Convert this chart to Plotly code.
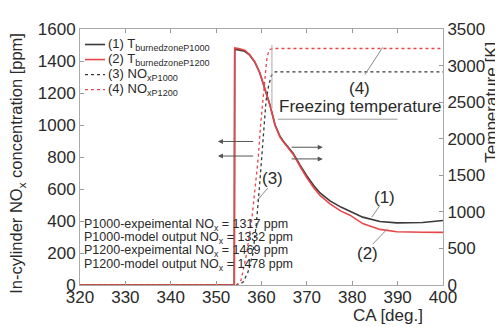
import plotly.graph_objects as go

# ---- data ----
ca_T_p1000 = [320, 354.0, 354.1, 355.0, 356.3, 357.4, 358.5, 359.6, 360.7, 361.9, 363.0, 364.1,
              365.0, 366.0, 367.0, 368.5, 370.0, 371.5, 372.9, 375.1, 377.5, 379.5, 382.3, 386.1,
              389.8, 395.5, 400]
T_p1000 = [0, 0, 3220, 3215, 3195, 3142, 3049, 2904, 2691, 2453, 2188, 2030,
           1950, 1880, 1800, 1640, 1490, 1360, 1259, 1150, 1065, 1008, 928, 868,
           849, 855, 882]

ca_T_p1200 = [320, 354.0, 354.1, 355.0, 356.3, 357.4, 358.5, 359.6, 360.7, 361.9, 363.0, 364.1,
              365.0, 366.0, 367.0, 368.5, 370.0, 371.5, 372.9, 375.1, 377.5, 379.5, 382.3, 386.1,
              389.8, 395.5, 400]
T_p1200 = [0, 0, 3240, 3232, 3210, 3150, 3055, 2905, 2690, 2450, 2180, 2020,
           1940, 1865, 1785, 1620, 1465, 1330, 1225, 1110, 1010, 955, 839, 760,
           729, 722, 720]

ca_nox_p1000 = [320, 355.0, 356.0, 357.0, 358.1, 358.9, 359.5, 360.0, 360.5, 361.0, 361.6, 362.2, 363.0, 400]
nox_p1000 = [0, 0, 20, 80, 194, 394, 596, 800, 1000, 1150, 1250, 1310, 1332, 1332]

ca_nox_p1200 = [320, 354.5, 355.5, 356.0, 356.7, 357.8, 358.5, 359.3, 359.8, 360.3, 360.7, 361.2, 361.7, 362.5, 400]
nox_p1200 = [0, 0, 30, 90, 194, 394, 596, 800, 1000, 1150, 1300, 1420, 1470, 1478, 1478]

x_ticks = [320, 330, 340, 350, 360, 370, 380, 390, 400]
y_ticks = [0, 200, 400, 600, 800, 1000, 1200, 1400, 1600]
y2_ticks = [0, 500, 1000, 1500, 2000, 2500, 3000, 3500]

legend_labels = [
    "(1) T<sub>burnedzoneP1000</sub>",
    "(2) T<sub>burnedzoneP1200</sub>",
    "(3) NO<sub>xP1000</sub>",
    "(4) NO<sub>xP1200</sub>",
]

info_lines = [
    "P1000-expeimental NO<sub>x</sub> = 1317 ppm",
    "P1000-model output NO<sub>x</sub> = 1332 ppm",
    "P1200-expeimental NO<sub>x</sub> = 1469 ppm",
    "P1200-model output NO<sub>x</sub> = 1478 ppm",
]

freezing_T = 2267
freezing_ca = [363.6, 390.0]

BLACK = "#3a3a3a"
RED = "#e8474a"
TXT = "#2a2a2a"
FONT = "Liberation Sans, Arial, sans-serif"

styles = [
    dict(color=BLACK, width=1.6),
    dict(color=RED, width=1.6),
    dict(color=BLACK, width=1.3, dash="dot"),
    dict(color=RED, width=1.3, dash="dot"),
]

fig = go.Figure()
fig.add_trace(go.Scatter(x=ca_T_p1000, y=T_p1000, yaxis="y2", mode="lines",
                         line=styles[0], name=legend_labels[0], showlegend=False))
fig.add_trace(go.Scatter(x=ca_T_p1200, y=T_p1200, yaxis="y2", mode="lines",
                         line=styles[1], name=legend_labels[1], showlegend=False))
fig.add_trace(go.Scatter(x=ca_nox_p1000, y=nox_p1000, mode="lines",
                         line=styles[2], name=legend_labels[2], showlegend=False))
fig.add_trace(go.Scatter(x=ca_nox_p1200, y=nox_p1200, mode="lines",
                         line=styles[3], name=legend_labels[3], showlegend=False))

# freezing temperature line
fig.add_trace(go.Scatter(x=freezing_ca, y=[freezing_T, freezing_T], yaxis="y2", mode="lines",
                         line=dict(color="#9a9a9a", width=1), showlegend=False, hoverinfo="skip"))

# plot area in page pixels: x 80..443, y 21..285
def px(x):
    return (x - 80) / 363.0


def py(y):
    return (285 - y) / 264.0


annotations = []
shapes = []

# manual legend
for i, (lab, st) in enumerate(zip(legend_labels, styles)):
    yy = 37 + i * 15.5
    shapes.append(dict(type="line", xref="paper", yref="paper", x0=px(85), x1=px(105),
                       y0=py(yy), y1=py(yy), line=st))
    annotations.append(dict(xref="paper", yref="paper", x=px(106), y=py(yy), text=lab,
                            showarrow=False, xanchor="left", yanchor="middle",
                            font=dict(size=13, color=TXT, family=FONT)))

# info text
for i, t in enumerate(info_lines):
    annotations.append(dict(xref="paper", yref="paper", x=px(82), y=py(223 + i * 13.7),
                            text=t, showarrow=False, xanchor="left", yanchor="middle",
                            font=dict(size=12.5, color=TXT, family=FONT)))
# labels
for txt, x, y in [("(4)", 381.7, 1228), ("Freezing temperature", 381.8, 1113),
                  ("(3)", 362.5, 667), ("(1)", 387.2, 545), ("(2)", 383.4, 200)]:
    annotations.append(dict(x=x, y=y, text=txt, showarrow=False, xanchor="center", yanchor="middle",
                            font=dict(size=17, color=TXT, family=FONT)))
# arrows
for (hx, tx, y) in [(350.4, 358.5, 897), (350.4, 358.5, 806), (373.5, 366.3, 861), (373.5, 366.3, 788)]:
    annotations.append(dict(x=hx, y=y, ax=tx, ay=y, axref="x", ayref="y", text="", showarrow=True,
                            arrowhead=2, arrowsize=1, arrowwidth=1, arrowcolor="#555555"))
# axis titles
annotations.append(dict(xref="paper", yref="paper", x=px(17), y=py(160),
                        text="In-cylinder NO<sub>x</sub> concentration [ppm]", textangle=-90,
                        showarrow=False, xanchor="center", yanchor="middle",
                        font=dict(size=16.5, color=TXT, family=FONT)))
annotations.append(dict(xref="paper", yref="paper", x=px(492), y=py(96),
                        text="Temperature [K]", textangle=-90,
                        showarrow=False, xanchor="center", yanchor="middle",
                        font=dict(size=17, color=TXT, family=FONT)))
annotations.append(dict(xref="paper", yref="paper", x=px(388), y=py(316),
                        text="CA [deg.]", showarrow=False, xanchor="center", yanchor="middle",
                        font=dict(size=17, color=TXT, family=FONT)))

for (x0, y0, x1, y1) in [(382.8, 1315, 386.7, 1485), (361.4, 606, 359.0, 527),
                         (386.1, 497, 384.3, 424), (384.5, 255, 387.8, 352)]:
    shapes.append(dict(type="line", x0=x0, y0=y0, x1=x1, y1=y1, xref="x", yref="y",
                       line=dict(color="#8a8a8a", width=1)))
shapes.append(dict(type="line", x0=362.3, x1=362.3, y0=1500, y1=1100, xref="x", yref="y",
                   line=dict(color="#aaaaaa", width=1)))

# the page body has an 8px margin: figure is 495x319 placed at (8, 8)
fig.update_layout(
    width=495, height=319,
    margin=dict(l=72, r=60, t=13, b=42),
    paper_bgcolor="white", plot_bgcolor="white",
    font=dict(family=FONT, size=17, color=TXT),
    showlegend=False,
    xaxis=dict(range=[320, 400], tickvals=x_ticks, ticks="inside", ticklen=4, tickcolor="#999",
               showline=True, linecolor="#aaa", linewidth=1, mirror="ticks", showgrid=False,
               zeroline=False, tickfont=dict(size=17, color=TXT), ticklabelstandoff=-3),
    yaxis=dict(range=[0, 1600], tickvals=y_ticks, ticks="inside", ticklen=4, tickcolor="#999",
               showline=True, linecolor="#aaa", linewidth=1, showgrid=False, zeroline=False,
               tickfont=dict(size=17, color=TXT)),
    yaxis2=dict(range=[0, 3500], tickvals=y2_ticks, ticks="inside", ticklen=4, tickcolor="#999",
                overlaying="y", side="right", showline=True, linecolor="#aaa", linewidth=1,
                showgrid=False, zeroline=False, tickfont=dict(size=17, color=TXT)),
    annotations=annotations,
    shapes=shapes,
)

fig.write_html("out.html")
